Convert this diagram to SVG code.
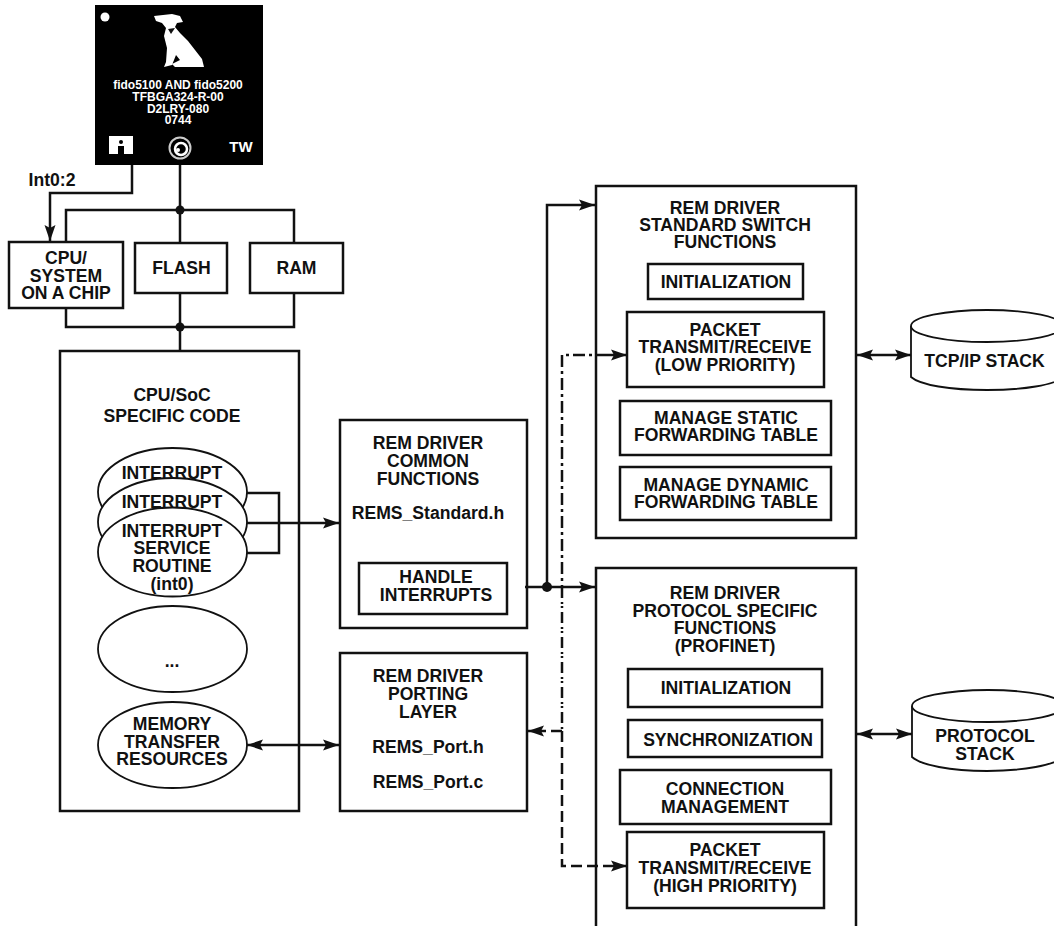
<svg xmlns="http://www.w3.org/2000/svg" width="1054" height="926" viewBox="0 0 1054 926">
<style>
text{font-family:"Liberation Sans",Arial,sans-serif;font-weight:bold;font-size:17.6px;fill:#111;text-anchor:middle}
.b{fill:#fff;stroke:#111;stroke-width:2.5}
.o{fill:#fff;stroke:#111;stroke-width:1.8}
.l{fill:none;stroke:#111;stroke-width:2.5}
.a{fill:none;stroke:#111;stroke-width:2.5}
.d1{fill:none;stroke:#111;stroke-width:2.5;stroke-dasharray:12 4 3 4}
.d2{fill:none;stroke:#111;stroke-width:2.5;stroke-dasharray:11 4 2 2 2 4}
.d3{fill:none;stroke:#111;stroke-width:2.5;stroke-dasharray:11 5}
.w{fill:#fff;font-size:12px}
</style>
<defs>
<marker id="e" markerUnits="userSpaceOnUse" markerWidth="18" markerHeight="12" refX="16" refY="6" orient="auto-start-reverse"><path d="M0 .5L16 6L0 11.500L3 6Z" fill="#111"/></marker>
</defs>
<g id="chip">
<rect x="95" y="5" width="168" height="160" fill="#000"/>
<circle cx="105" cy="17" r="4.5" fill="#fff"/>
<path fill="#fff" d="M154 16L172 14L180 16L183 22L177 23L175 27L180 33L188 41L195 50L202 59L204 67L175 67L172 64L180 60L176 55L172 65L164 67L166 62L167 48L164 36L166 28L162 23L156 21Z"/>
<path fill="#111" d="M168 29L175 28L171 34Z"/>
<text class="w" x="178" y="89">fido5100 AND fido5200</text>
<text class="w" x="178" y="101">TFBGA324-R-00</text>
<text class="w" x="178" y="113">D2LRY-080</text>
<text class="w" x="178" y="124">0744</text>
<path fill="#fff" d="M109 136H133V154H124V146H118V154H109Z"/>
<circle cx="121" cy="142" r="2" fill="#000"/>
<circle cx="180" cy="148" r="10.500" fill="none" stroke="#ccc" stroke-width="2"/>
<circle cx="181" cy="149" r="6" fill="none" stroke="#fff" stroke-width="2.500"/>
<circle cx="178" cy="150" r="2" fill="#fff"/>
<text x="241" y="152" style="fill:#fff;font-size:15px">TW</text>
</g>
<text id="int-label" x="52" y="186">Int0:2</text>
<g id="cpu"><rect class="b" x="9" y="242" width="114" height="66"/><text x="66" y="264">CPU/</text><text x="66" y="282">SYSTEM</text><text x="66" y="299">ON A CHIP</text></g>
<g id="flash"><rect class="b" x="135" y="243" width="92" height="50"/><text x="181.500" y="274">FLASH</text></g>
<g id="ram"><rect class="b" x="250" y="243" width="93" height="50"/><text x="296.500" y="274">RAM</text></g>
<g id="soc"><rect class="b" x="60" y="351" width="239" height="460"/><text x="172" y="401">CPU/SoC</text><text x="172" y="422">SPECIFIC CODE</text></g>
<g id="isr1"><ellipse class="o" cx="172.500" cy="492" rx="74.500" ry="44"/><text x="172" y="479">INTERRUPT</text></g>
<g id="isr2"><ellipse class="o" cx="172.500" cy="522" rx="74.500" ry="44"/><text x="172" y="508">INTERRUPT</text></g>
<g id="isr3"><ellipse class="o" cx="172.500" cy="552" rx="74.500" ry="44.500"/><text x="172" y="537">INTERRUPT</text><text x="172" y="554">SERVICE</text><text x="172" y="572">ROUTINE</text><text x="172" y="590">(int0)</text></g>
<g id="more"><ellipse class="o" cx="172.500" cy="649" rx="74.500" ry="43"/><text x="172" y="667">...</text></g>
<g id="memory"><ellipse class="o" cx="172.500" cy="745" rx="74.500" ry="43"/><text x="172" y="730">MEMORY</text><text x="172" y="748">TRANSFER</text><text x="172" y="765">RESOURCES</text></g>
<g id="common"><rect class="b" x="340" y="420" width="187" height="208"/><text x="428" y="449">REM DRIVER</text><text x="428" y="467">COMMON</text><text x="428" y="485">FUNCTIONS</text><text x="428" y="519">REMS_Standard.h</text></g>
<g id="handle"><rect class="b" x="359" y="563" width="148" height="51"/><text x="436" y="583">HANDLE</text><text x="436" y="601">INTERRUPTS</text></g>
<g id="porting"><rect class="b" x="340" y="653" width="187" height="158"/><text x="428" y="682">REM DRIVER</text><text x="428" y="700">PORTING</text><text x="428" y="718">LAYER</text><text x="428" y="753">REMS_Port.h</text><text x="428" y="788">REMS_Port.c</text></g>
<g id="standard"><rect class="b" x="596" y="186" width="260" height="352"/><text x="725" y="214">REM DRIVER</text><text x="725" y="231">STANDARD SWITCH</text><text x="725" y="248">FUNCTIONS</text></g>
<g id="init1"><rect class="b" x="648" y="264" width="155" height="35"/><text x="726" y="288">INITIALIZATION</text></g>
<g id="packet1"><rect class="b" x="627" y="312" width="197" height="75"/><text x="725" y="336">PACKET</text><text x="725" y="353">TRANSMIT/RECEIVE</text><text x="725" y="371">(LOW PRIORITY)</text></g>
<g id="static"><rect class="b" x="620" y="401" width="211" height="54"/><text x="726" y="424">MANAGE STATIC</text><text x="726" y="441">FORWARDING TABLE</text></g>
<g id="dynamic"><rect class="b" x="620" y="467" width="211" height="53"/><text x="726" y="491">MANAGE DYNAMIC</text><text x="726" y="508">FORWARDING TABLE</text></g>
<g id="protocol"><rect class="b" x="596" y="568" width="260" height="370"/><text x="725" y="599">REM DRIVER</text><text x="725" y="617">PROTOCOL SPECIFIC</text><text x="725" y="634">FUNCTIONS</text><text x="725" y="652">(PROFINET)</text></g>
<g id="init2"><rect class="b" x="628" y="669" width="194" height="38"/><text x="726" y="694">INITIALIZATION</text></g>
<g id="sync"><rect class="b" x="628" y="720" width="194" height="37"/><text x="728" y="746">SYNCHRONIZATION</text></g>
<g id="conn"><rect class="b" x="620" y="770" width="211" height="54"/><text x="725" y="795">CONNECTION</text><text x="725" y="813">MANAGEMENT</text></g>
<g id="packet2"><rect class="b" x="627" y="832" width="197" height="76"/><text x="725" y="856">PACKET</text><text x="725" y="874">TRANSMIT/RECEIVE</text><text x="725" y="892">(HIGH PRIORITY)</text></g>
<g id="tcp"><path class="o" d="M911 326V377C920 385 950 390 987 390S1054 385 1064 377V326"/><ellipse class="o" cx="987" cy="326" rx="76" ry="16"/><text x="984.500" y="367">TCP/IP STACK</text></g>
<g id="stack"><path class="o" d="M912 706V757C921 765 950 771 987 771S1054 765 1064 757V706"/><ellipse class="o" cx="988" cy="706" rx="76" ry="16"/><text x="985" y="742">PROTOCOL</text><text x="985" y="760">STACK</text></g>
<g id="connectors">
<path class="l" d="M132 165V193H50V225"/>
<path class="a" d="M50 225V241" marker-end="url(#e)"/>
<path class="l" d="M180 165V243M66 242V210H294V243M66 308V327H294V293M180 293V351"/>
<circle cx="180" cy="210" r="4.5" fill="#111"/>
<circle cx="180" cy="327" r="4.5" fill="#111"/>
<path class="l" d="M247 493H279V553H247"/>
<path class="a" d="M247 523H339" marker-end="url(#e)"/>
<path class="a" d="M247 745H339" marker-start="url(#e)" marker-end="url(#e)"/>
<path class="a" d="M525 587H595" marker-end="url(#e)"/>
<path class="a" d="M547 587V205H595" marker-end="url(#e)"/>
<circle cx="547" cy="587" r="5" fill="#111"/>
<path class="d1" d="M608 355H562V587"/>
<path class="d2" d="M562 587V731"/>
<path class="d3" d="M562 731V866H608"/>
<path class="d3" d="M562 731H546"/>
<path class="a" d="M546 731H528" marker-end="url(#e)"/>
<path class="a" d="M608 355H627" marker-end="url(#e)"/>
<path class="a" d="M608 866H627" marker-end="url(#e)"/>
<path class="a" d="M857 355H911" marker-start="url(#e)" marker-end="url(#e)"/>
<path class="a" d="M857 734H912" marker-start="url(#e)" marker-end="url(#e)"/>
</g>
</svg>
